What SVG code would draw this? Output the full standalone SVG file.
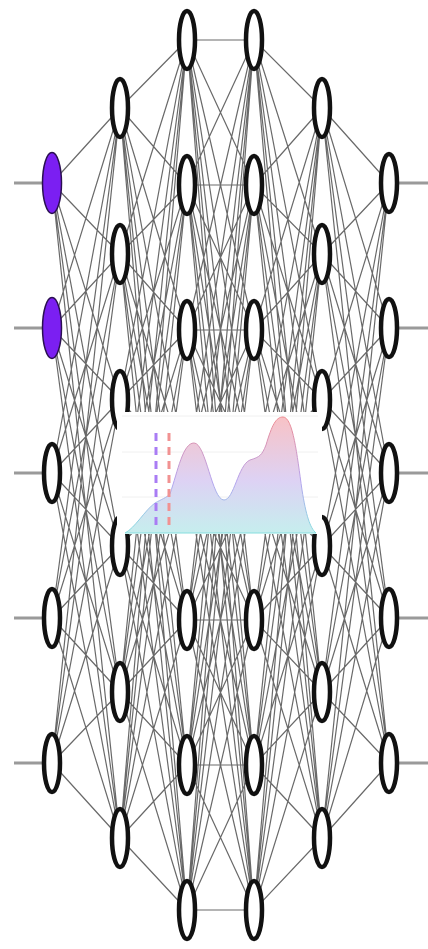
<svg xmlns="http://www.w3.org/2000/svg" width="428" height="949" viewBox="0 0 428 949">
<style>
.bg{fill:#ffffff}
.conn{fill:none;stroke:#444444;stroke-width:1.2;stroke-opacity:0.8}
.io{stroke:#9a9a9a;stroke-width:3}
.node{fill:#ffffff;stroke:#111111;stroke-width:4.5}
.inp{fill:#7b1ff2;stroke:#2a1050;stroke-width:1.5}
.grid{stroke:#f0f0f0;stroke-width:1}
</style>
<defs>
<linearGradient id="fillG" x1="0" y1="417" x2="0" y2="533" gradientUnits="userSpaceOnUse">
<stop offset="0" stop-color="#f8c2c6"/>
<stop offset="0.55" stop-color="#ddd2f4"/>
<stop offset="1" stop-color="#c6eeee"/>
</linearGradient>
<linearGradient id="lineG" x1="0" y1="417" x2="0" y2="533" gradientUnits="userSpaceOnUse">
<stop offset="0" stop-color="#ef8a8f"/>
<stop offset="0.55" stop-color="#b4a2ee"/>
<stop offset="1" stop-color="#86dede"/>
</linearGradient>
</defs>
<rect class="bg" x="0" y="0" width="428" height="949"/>
<g id="connectors">
<path class="conn" d="M52 183L120 108M52 183L120 254M52 183L120 400M52 183L120 546M52 183L120 692M52 183L120 838M52 328L120 108M52 328L120 254M52 328L120 400M52 328L120 546M52 328L120 692M52 328L120 838M52 473L120 108M52 473L120 254M52 473L120 400M52 473L120 546M52 473L120 692M52 473L120 838M52 618L120 108M52 618L120 254M52 618L120 400M52 618L120 546M52 618L120 692M52 618L120 838M52 763L120 108M52 763L120 254M52 763L120 400M52 763L120 546M52 763L120 692M52 763L120 838"/>
<path class="conn" d="M120 108L187 40M120 108L187 185M120 108L187 330M120 108L187 475M120 108L187 620M120 108L187 765M120 108L187 910M120 254L187 40M120 254L187 185M120 254L187 330M120 254L187 475M120 254L187 620M120 254L187 765M120 254L187 910M120 400L187 40M120 400L187 185M120 400L187 330M120 400L187 475M120 400L187 620M120 400L187 765M120 400L187 910M120 546L187 40M120 546L187 185M120 546L187 330M120 546L187 475M120 546L187 620M120 546L187 765M120 546L187 910M120 692L187 40M120 692L187 185M120 692L187 330M120 692L187 475M120 692L187 620M120 692L187 765M120 692L187 910M120 838L187 40M120 838L187 185M120 838L187 330M120 838L187 475M120 838L187 620M120 838L187 765M120 838L187 910"/>
<path class="conn" d="M187 40L254 40M187 40L254 185M187 40L254 330M187 40L254 475M187 40L254 620M187 40L254 765M187 40L254 910M187 185L254 40M187 185L254 185M187 185L254 330M187 185L254 475M187 185L254 620M187 185L254 765M187 185L254 910M187 330L254 40M187 330L254 185M187 330L254 330M187 330L254 475M187 330L254 620M187 330L254 765M187 330L254 910M187 475L254 40M187 475L254 185M187 475L254 330M187 475L254 475M187 475L254 620M187 475L254 765M187 475L254 910M187 620L254 40M187 620L254 185M187 620L254 330M187 620L254 475M187 620L254 620M187 620L254 765M187 620L254 910M187 765L254 40M187 765L254 185M187 765L254 330M187 765L254 475M187 765L254 620M187 765L254 765M187 765L254 910M187 910L254 40M187 910L254 185M187 910L254 330M187 910L254 475M187 910L254 620M187 910L254 765M187 910L254 910"/>
<path class="conn" d="M254 40L322 108M254 40L322 254M254 40L322 400M254 40L322 546M254 40L322 692M254 40L322 838M254 185L322 108M254 185L322 254M254 185L322 400M254 185L322 546M254 185L322 692M254 185L322 838M254 330L322 108M254 330L322 254M254 330L322 400M254 330L322 546M254 330L322 692M254 330L322 838M254 475L322 108M254 475L322 254M254 475L322 400M254 475L322 546M254 475L322 692M254 475L322 838M254 620L322 108M254 620L322 254M254 620L322 400M254 620L322 546M254 620L322 692M254 620L322 838M254 765L322 108M254 765L322 254M254 765L322 400M254 765L322 546M254 765L322 692M254 765L322 838M254 910L322 108M254 910L322 254M254 910L322 400M254 910L322 546M254 910L322 692M254 910L322 838"/>
<path class="conn" d="M322 108L389 183M322 108L389 328M322 108L389 473M322 108L389 618M322 108L389 763M322 254L389 183M322 254L389 328M322 254L389 473M322 254L389 618M322 254L389 763M322 400L389 183M322 400L389 328M322 400L389 473M322 400L389 618M322 400L389 763M322 546L389 183M322 546L389 328M322 546L389 473M322 546L389 618M322 546L389 763M322 692L389 183M322 692L389 328M322 692L389 473M322 692L389 618M322 692L389 763M322 838L389 183M322 838L389 328M322 838L389 473M322 838L389 618M322 838L389 763"/>
<path class="io" d="M14 183H44M14 328H44M14 473H44M14 618H44M14 763H44M397 183H428M397 328H428M397 473H428M397 618H428M397 763H428"/>
</g>
<g id="layer1">
<ellipse id="n1-1" class="inp" cx="52" cy="183" rx="9.5" ry="30.5"/>
<ellipse id="n1-2" class="inp" cx="52" cy="328" rx="9.5" ry="30.5"/>
<ellipse id="n1-3" class="node" cx="52" cy="473" rx="8" ry="29"/>
<ellipse id="n1-4" class="node" cx="52" cy="618" rx="8" ry="29"/>
<ellipse id="n1-5" class="node" cx="52" cy="763" rx="8" ry="29"/>
</g>
<g id="layer2">
<ellipse id="n2-1" class="node" cx="120" cy="108" rx="8" ry="29"/>
<ellipse id="n2-2" class="node" cx="120" cy="254" rx="8" ry="29"/>
<ellipse id="n2-3" class="node" cx="120" cy="400" rx="8" ry="29"/>
<ellipse id="n2-4" class="node" cx="120" cy="546" rx="8" ry="29"/>
<ellipse id="n2-5" class="node" cx="120" cy="692" rx="8" ry="29"/>
<ellipse id="n2-6" class="node" cx="120" cy="838" rx="8" ry="29"/>
</g>
<g id="layer3">
<ellipse id="n3-1" class="node" cx="187" cy="40" rx="8" ry="29"/>
<ellipse id="n3-2" class="node" cx="187" cy="185" rx="8" ry="29"/>
<ellipse id="n3-3" class="node" cx="187" cy="330" rx="8" ry="29"/>
<ellipse id="n3-4" class="node" cx="187" cy="475" rx="8" ry="29"/>
<ellipse id="n3-5" class="node" cx="187" cy="620" rx="8" ry="29"/>
<ellipse id="n3-6" class="node" cx="187" cy="765" rx="8" ry="29"/>
<ellipse id="n3-7" class="node" cx="187" cy="910" rx="8" ry="29"/>
</g>
<g id="layer4">
<ellipse id="n4-1" class="node" cx="254" cy="40" rx="8" ry="29"/>
<ellipse id="n4-2" class="node" cx="254" cy="185" rx="8" ry="29"/>
<ellipse id="n4-3" class="node" cx="254" cy="330" rx="8" ry="29"/>
<ellipse id="n4-4" class="node" cx="254" cy="475" rx="8" ry="29"/>
<ellipse id="n4-5" class="node" cx="254" cy="620" rx="8" ry="29"/>
<ellipse id="n4-6" class="node" cx="254" cy="765" rx="8" ry="29"/>
<ellipse id="n4-7" class="node" cx="254" cy="910" rx="8" ry="29"/>
</g>
<g id="layer5">
<ellipse id="n5-1" class="node" cx="322" cy="108" rx="8" ry="29"/>
<ellipse id="n5-2" class="node" cx="322" cy="254" rx="8" ry="29"/>
<ellipse id="n5-3" class="node" cx="322" cy="400" rx="8" ry="29"/>
<ellipse id="n5-4" class="node" cx="322" cy="546" rx="8" ry="29"/>
<ellipse id="n5-5" class="node" cx="322" cy="692" rx="8" ry="29"/>
<ellipse id="n5-6" class="node" cx="322" cy="838" rx="8" ry="29"/>
</g>
<g id="layer6">
<ellipse id="n6-1" class="node" cx="389" cy="183" rx="8" ry="29"/>
<ellipse id="n6-2" class="node" cx="389" cy="328" rx="8" ry="29"/>
<ellipse id="n6-3" class="node" cx="389" cy="473" rx="8" ry="29"/>
<ellipse id="n6-4" class="node" cx="389" cy="618" rx="8" ry="29"/>
<ellipse id="n6-5" class="node" cx="389" cy="763" rx="8" ry="29"/>
</g>
<g id="chart">
<rect x="117" y="412" width="205" height="122" fill="#ffffff"/>
<path class="grid" d="M122 416H318M122 452H318M122 497H318"/>
<path d="M125 533C135 528 145 510 155 503C162 499 166 498 170 494C178 470 183 443 194 443C206 443 212 500 224 500C234 500 238 465 250 460C260 457 262 455 266 445C272 425 276 417 283 417C293 417 297 455 302 490C306 515 310 528 316 533Z" fill="url(#fillG)" stroke="url(#lineG)" stroke-width="1"/>
<line x1="156" y1="433" x2="156" y2="530" stroke="#a97cf4" stroke-width="3" stroke-dasharray="8 6"/>
<line x1="169" y1="433" x2="169" y2="530" stroke="#f19292" stroke-width="3" stroke-dasharray="8 6"/>
</g>
</svg>
